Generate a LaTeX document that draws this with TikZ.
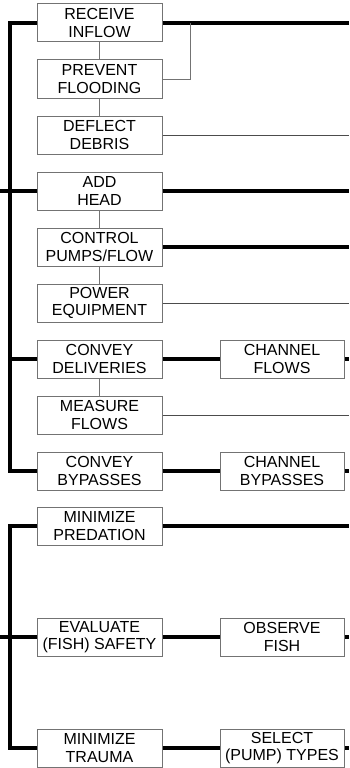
\documentclass[tikz,border=0pt]{standalone}
\usepackage{fontspec}
\setmainfont{Liberation Sans}
\begin{document}
\begin{tikzpicture}[x=1pt,y=-1pt,
  box/.style={draw=boxgray,line width=1pt,minimum width=125pt,minimum height=38pt,inner sep=0pt,
    align=center,text=black,font=\fontsize{16}{17.5}\selectfont},
  heavy/.style={line width=4pt,black},
  light/.style={line width=1pt,black!70},
  lightgray/.style={line width=1pt,black!55}]
\definecolor{boxgray}{gray}{0.45}
\useasboundingbox (0,0) rectangle (349,768);
% upper group boxes
\node[box] (rec)  at (99.5,23)  {RECEIVE\\INFLOW};
\node[box] (prev) at (99.5,79)  {PREVENT\\FLOODING};
\node[box] (defl) at (99.5,135) {DEFLECT\\DEBRIS};
\node[box] (add)  at (99.5,191) {ADD\\HEAD};
\node[box] (ctrl) at (99.5,247) {CONTROL\\PUMPS/FLOW};
\node[box] (pow)  at (99.5,303) {POWER\\EQUIPMENT};
\node[box] (cdel) at (99.5,359) {CONVEY\\DELIVERIES};
\node[box] (meas) at (99.5,415) {MEASURE\\FLOWS};
\node[box] (cbyp) at (99.5,471) {CONVEY\\BYPASSES};
\node[box,minimum width=124pt] (chf) at (282,359) {CHANNEL\\FLOWS};
\node[box,minimum width=124pt] (chb) at (282,471) {CHANNEL\\BYPASSES};
% lower group boxes
\node[box] (mpred) at (99.5,526) {MINIMIZE\\PREDATION};
\node[box] (eval)  at (99.5,637) {EVALUATE\\(FISH) SAFETY};
\node[box] (mtra)  at (99.5,748) {MINIMIZE\\TRAUMA};
\node[box,minimum width=124pt] (obs) at (282,637) {OBSERVE\\FISH};
\node[box,minimum width=124pt] (sel) at (282,748) {SELECT\\(PUMP) TYPES};
% coordinates
\coordinate (v1t) at (9.5,23);
\coordinate (v1b) at (9.5,471);
\coordinate (in1) at (0,191);
\coordinate (v2t) at (9.5,526);
\coordinate (v2b) at (9.5,748);
\coordinate (in2) at (0,637);
\coordinate (r1) at (349,23);
\coordinate (r4) at (349,191);
\coordinate (r5) at (349,247);
\coordinate (r7) at (349,359);
\coordinate (r9) at (349,471);
\coordinate (r3) at (349,135);
\coordinate (r6) at (349,303);
\coordinate (r8) at (349,415);
\coordinate (rp) at (349,526);
\coordinate (re) at (349,637);
\coordinate (rt) at (349,748);
\coordinate (tap) at (190.7,23);
% heavy connectors
\draw[heavy] (rec.west) -- (v1t) -- (v1b) -- (cbyp.west);
\draw[heavy] (in1) -- (add.west);
\draw[heavy] (cdel.west) -- (cdel.west -| v1t);
\draw[heavy] (rec.east) -- (r1);
\draw[heavy] (add.east) -- (r4);
\draw[heavy] (ctrl.east) -- (r5);
\draw[heavy] (cdel.east) -- (chf.west);
\draw[heavy] (chf.east) -- (r7);
\draw[heavy] (cbyp.east) -- (chb.west);
\draw[heavy] (chb.east) -- (r9);
\draw[heavy] (mpred.west) -- (v2t) -- (v2b) -- (mtra.west);
\draw[heavy] (in2) -- (eval.west);
\draw[heavy] (mpred.east) -- (rp);
\draw[heavy] (eval.east) -- (obs.west);
\draw[heavy] (obs.east) -- (re);
\draw[heavy] (mtra.east) -- (sel.west);
\draw[heavy] (sel.east) -- (rt);
% light connectors
\draw[lightgray] (rec.south) -- (prev.north);
\draw[lightgray] (prev.south) -- (defl.north);
\draw[lightgray] (tap) |- (prev.east);
\draw[lightgray] (add.south) -- (ctrl.north);
\draw[lightgray] (ctrl.south) -- (pow.north);
\draw[lightgray] (cdel.south) -- (meas.north);
\draw[light] (defl.east) -- (r3);
\draw[light] (pow.east) -- (r6);
\draw[light] (meas.east) -- (r8);
\end{tikzpicture}
\end{document}
